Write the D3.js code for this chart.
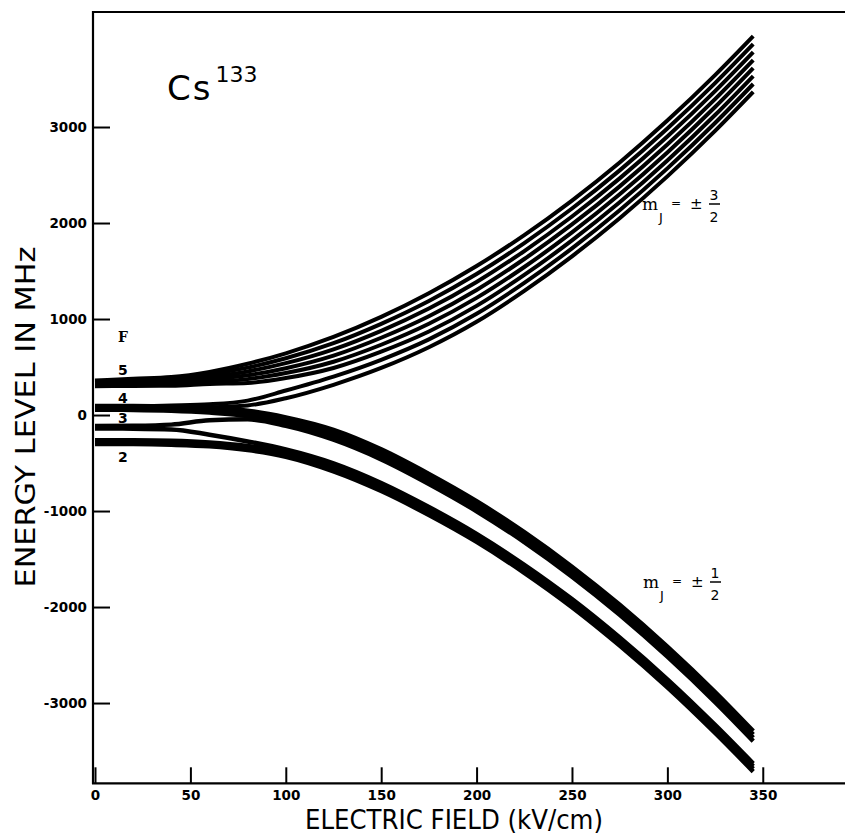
<!DOCTYPE html>
<html>
<head>
<meta charset="utf-8">
<script src="https://cdn.jsdelivr.net/npm/d3@7"></script>
<style>
  html, body { margin: 0; padding: 0; background: #fff; }
  svg { display: block; }
</style>
</head>
<body>
<svg id="chart" width="845" height="837"></svg>
<script>
// Field values (kV/cm) at which every level is sampled
const field = [0, 20, 40, 60, 80, 100, 125, 150, 175, 200, 225, 250, 275, 300, 325, 345];

// m_J = ±3/2 levels (MHz): six from F=5, two from F=4
const upperFan = [
  [360, 378, 395, 449, 534, 643, 813, 1022, 1268, 1552, 1874, 2234, 2631, 3067, 3540, 3946],
  [348, 363, 377, 424, 494, 591, 748, 950, 1188, 1469, 1791, 2151, 2548, 2984, 3457, 3863],
  [336, 348, 359, 399, 454, 540, 684, 877, 1109, 1386, 1708, 2068, 2465, 2901, 3374, 3780],
  [324, 333, 341, 374, 414, 488, 619, 805, 1029, 1303, 1625, 1985, 2382, 2818, 3291, 3697],
  [312, 318, 323, 349, 374, 437, 555, 732, 950, 1220, 1542, 1902, 2299, 2735, 3208, 3614],
  [300, 303, 305, 324, 334, 385, 490, 660, 870, 1137, 1459, 1819, 2216, 2652, 3125, 3531],
  [92, 92, 100, 112, 150, 255, 400, 575, 788, 1054, 1376, 1736, 2133, 2569, 3042, 3448],
  [72, 72, 78, 82, 100, 175, 315, 490, 706, 971, 1293, 1653, 2050, 2486, 2959, 3365]
];

// m_J = ±1/2, upper band (from F=4 and F=3)
const lowerBandA = [
  [95, 95, 90, 75, 45, -25, -155, -358, -614, -898, -1220, -1580, -1977, -2413, -2886, -3293],
  [75, 74, 68, 50, 18, -55, -190, -393, -649, -933, -1255, -1615, -2012, -2448, -2921, -3328],
  [55, 53, 45, 25, -10, -85, -222, -427, -683, -967, -1289, -1649, -2046, -2482, -2955, -3362],
  [-115, -112, -100, -55, -45, -112, -257, -462, -718, -1002, -1324, -1684, -2081, -2517, -2990, -3397]
];

// m_J = ±1/2, lower band (from F=3 and F=2)
const lowerBandB = [
  [-140, -142, -150, -205, -275, -358, -503, -708, -958, -1238, -1560, -1918, -2318, -2753, -3228, -3630],
  [-262, -263, -268, -285, -322, -386, -531, -736, -986, -1266, -1588, -1946, -2346, -2781, -3256, -3658],
  [-282, -283, -290, -306, -345, -410, -559, -764, -1014, -1294, -1616, -1974, -2374, -2809, -3284, -3686],
  [-302, -303, -310, -326, -365, -435, -587, -792, -1042, -1322, -1644, -2002, -2402, -2837, -3312, -3714]
];

const xTicks = [0, 50, 100, 150, 200, 250, 300, 350];
const yTicks = [-3000, -2000, -1000, 0, 1000, 2000, 3000];
// F labels, placed just above each zero-field level (MHz)
const hyperfineLabels = [
  { text: "5", level: 470 },
  { text: "4", level: 178 },
  { text: "3", level: -30 },
  { text: "2", level: -438 }
];

const svg = d3.select("#chart");

const x = d3.scaleLinear().domain([0, 393.1]).range([95, 845]);
const y = d3.scaleLinear().domain([-3836, 4198]).range([783.3, 12]);

const ink = "#000";

// Frame: top rule, left axis, bottom axis
svg.append("line")
  .attr("x1", 93).attr("x2", 845).attr("y1", 12).attr("y2", 12)
  .attr("stroke", ink).attr("stroke-width", 2.2);

// Y axis, ticks pointing into the plot
const yAxis = d3.axisLeft(y)
  .tickValues(yTicks)
  .tickSize(-17)
  .tickPadding(6)
  .tickFormat(d => String(d));

const gy = svg.append("g").attr("transform", "translate(93,0)").call(yAxis);
gy.select(".domain").remove();
gy.selectAll(".tick line").attr("stroke", ink).attr("stroke-width", 2);
gy.selectAll(".tick text")
  .attr("fill", ink)
  .style("font-family", "'DejaVu Sans', sans-serif")
  .style("font-weight", "bold")
  .style("font-size", "13.5px");

svg.append("line")
  .attr("x1", 93).attr("x2", 93).attr("y1", 11).attr("y2", 784)
  .attr("stroke", ink).attr("stroke-width", 2.2);

// X axis, ticks pointing up into the plot
const xAxis = d3.axisBottom(x)
  .tickValues(xTicks)
  .tickSize(-16)
  .tickPadding(7)
  .tickFormat(d => String(d));

const gx = svg.append("g").attr("transform", "translate(0,783.3)").call(xAxis);
gx.select(".domain").remove();
gx.selectAll(".tick line").attr("stroke", ink).attr("stroke-width", 2);
gx.selectAll(".tick text")
  .attr("fill", ink)
  .style("font-family", "'DejaVu Sans', sans-serif")
  .style("font-weight", "bold")
  .style("font-size", "13.5px");

svg.append("line")
  .attr("x1", 92).attr("x2", 845).attr("y1", 783.3).attr("y2", 783.3)
  .attr("stroke", ink).attr("stroke-width", 2.2);

// Energy levels
const line = d3.line()
  .x((d, i) => x(field[i]))
  .y(d => y(d))
  .curve(d3.curveMonotoneX);

const levels = svg.append("g").attr("fill", "none").attr("stroke", ink)
  .attr("stroke-linecap", "butt").attr("stroke-linejoin", "round");

levels.selectAll("path.fan")
  .data(upperFan)
  .join("path")
  .attr("class", "fan")
  .attr("d", line)
  .attr("stroke-width", 4);

levels.selectAll("path.bandA")
  .data(lowerBandA)
  .join("path")
  .attr("class", "bandA")
  .attr("d", line)
  .attr("stroke-width", 4.5);

levels.selectAll("path.bandB")
  .data(lowerBandB)
  .join("path")
  .attr("class", "bandB")
  .attr("d", line)
  .attr("stroke-width", 4.5);

// Title
const title = svg.append("text")
  .attr("x", 167).attr("y", 100)
  .attr("fill", ink)
  .style("font-family", "'DejaVu Sans', sans-serif");
title.append("tspan").text("Cs").style("font-size", "34px").attr("letter-spacing", 2);
title.append("tspan").text("133").attr("dx", 3).attr("dy", -18).style("font-size", "22px");

// Axis titles
svg.append("text")
  .attr("transform", "translate(35,417) rotate(-90)")
  .attr("text-anchor", "middle")
  .attr("textLength", 341)
  .attr("lengthAdjust", "spacingAndGlyphs")
  .attr("fill", ink)
  .style("font-family", "'DejaVu Sans', sans-serif")
  .style("font-size", "27px")
  .text("ENERGY LEVEL IN MHz");

svg.append("text")
  .attr("x", 454).attr("y", 829)
  .attr("text-anchor", "middle")
  .attr("textLength", 298)
  .attr("lengthAdjust", "spacingAndGlyphs")
  .attr("fill", ink)
  .style("font-family", "'DejaVu Sans Condensed', 'Liberation Sans Narrow', sans-serif")
  .style("font-stretch", "condensed")
  .style("font-size", "26px")
  .text("ELECTRIC FIELD (kV/cm)");

// Hyperfine level labels
svg.append("text")
  .attr("x", 118).attr("y", 342)
  .attr("fill", ink)
  .style("font-family", "'DejaVu Serif', serif")
  .style("font-weight", "bold")
  .style("font-size", "14px")
  .text("F");

svg.selectAll("text.hf")
  .data(hyperfineLabels)
  .join("text")
  .attr("class", "hf")
  .attr("x", 118)
  .attr("y", d => y(d.level) + 5)
  .attr("fill", ink)
  .style("font-family", "'DejaVu Sans', sans-serif")
  .style("font-weight", "bold")
  .style("font-size", "14px")
  .text(d => d.text);

// m_J annotations
function mjLabel(x0, yBase, numerator) {
  const g = svg.append("g").attr("fill", ink);
  g.append("text").attr("x", x0).attr("y", yBase)
    .style("font-family", "'DejaVu Serif', serif").style("font-size", "17px").text("m");
  g.append("text").attr("x", x0 + 17).attr("y", yBase + 12)
    .style("font-family", "'DejaVu Sans', sans-serif").style("font-size", "13px").text("J");
  g.append("text").attr("x", x0 + 29).attr("y", yBase - 3)
    .style("font-family", "'DejaVu Sans', sans-serif").style("font-size", "12px").text("=");
  g.append("text").attr("x", x0 + 48).attr("y", yBase - 1)
    .style("font-family", "'DejaVu Sans', sans-serif").style("font-size", "15px").text("±");
  g.append("text").attr("x", x0 + 72).attr("y", yBase - 10).attr("text-anchor", "middle")
    .style("font-family", "'DejaVu Sans', sans-serif").style("font-size", "14px").text(numerator);
  g.append("line").attr("x1", x0 + 67).attr("x2", x0 + 78)
    .attr("y1", yBase - 6).attr("y2", yBase - 6)
    .attr("stroke", ink).attr("stroke-width", 1.5);
  g.append("text").attr("x", x0 + 72).attr("y", yBase + 12).attr("text-anchor", "middle")
    .style("font-family", "'DejaVu Sans', sans-serif").style("font-size", "14px").text("2");
}
mjLabel(642, 210, "3");
mjLabel(643, 588, "1");
</script>
</body>
</html>
